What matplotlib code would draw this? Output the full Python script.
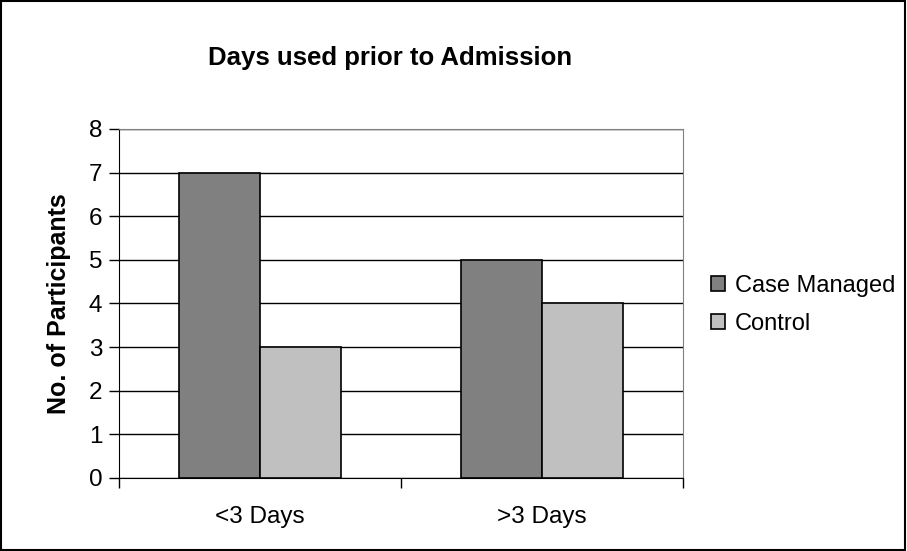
import matplotlib.pyplot as plt
import numpy as np

plt.rcParams['font.family'] = ['Liberation Sans', 'DejaVu Sans']

categories = ['<3 Days', '>3 Days']
case_managed = [7, 5]
control = [3, 4]

fig = plt.figure(figsize=(9.07, 5.51), dpi=100)
ax = fig.add_axes([0.1312, 0.1325, 0.6218, 0.6334])

x = np.arange(len(categories))
w = 0.287
ax.bar(x - w / 2, case_managed, w, color='#808080', edgecolor='black', linewidth=1.2,
       label='Case Managed', zorder=3)
ax.bar(x + w / 2, control, w, color='#c0c0c0', edgecolor='black', linewidth=1.2,
       label='Control', zorder=3)

ax.set_xlim(-0.5, 1.5)
ax.set_ylim(0, 8)
ax.set_yticks(range(0, 9))
ax.yaxis.grid(True, color='black', linewidth=1)
ax.set_axisbelow(True)

# category labels sit between the boundary ticks
ax.set_xticks([-0.5, 0.5, 1.5])
ax.set_xticklabels([])
ax.set_xticks(x, minor=True)
ax.set_xticklabels(categories, minor=True)
ax.tick_params(axis='x', which='minor', length=0, pad=20, labelsize=17.5)
ax.tick_params(axis='x', which='major', length=7, width=1, direction='out')
ax.tick_params(axis='y', length=7, width=1, direction='out', labelsize=17.5, pad=5)

for side in ['top', 'right']:
    ax.spines[side].set_color('#808080')
ax.spines['left'].set_color('black')
ax.spines['bottom'].set_color('black')

ax.set_ylabel('No. of Participants', fontsize=18, fontweight='bold')
ax.yaxis.set_label_coords(-0.085, 0.5)
fig.text(0.43, 0.895, 'Days used prior to Admission', fontsize=18.5, fontweight='bold',
         ha='center', va='center')

fig.legend(loc='center left', bbox_to_anchor=(0.784, 0.447), frameon=False,
           fontsize=17, handlelength=0.6, handleheight=0.6, handletextpad=0.4,
           labelspacing=0.68, borderpad=0, borderaxespad=0)

fig.patches.append(plt.Rectangle((0.001, 0.001), 0.997, 0.997, transform=fig.transFigure,
                                 fill=False, edgecolor='black', linewidth=1.5))

fig.savefig('out.png', dpi=100)
